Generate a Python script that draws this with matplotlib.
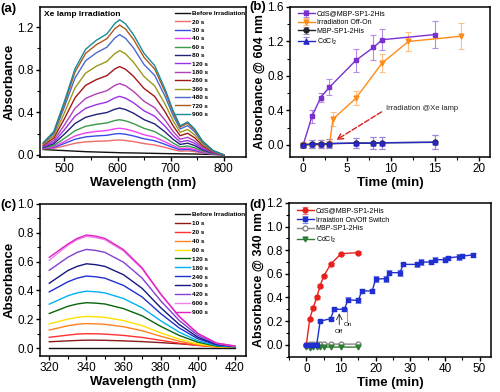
import matplotlib
matplotlib.use("Agg")
import matplotlib.pyplot as plt
from matplotlib.ticker import AutoMinorLocator, MultipleLocator

plt.rcParams["font.family"] = ["Liberation Sans", "DejaVu Sans"]
plt.rcParams["axes.linewidth"] = 1.1
plt.rcParams["xtick.major.width"] = 1.0
plt.rcParams["ytick.major.width"] = 1.0
plt.rcParams["xtick.minor.width"] = 0.8
plt.rcParams["ytick.minor.width"] = 0.8
plt.rcParams["xtick.major.size"] = 3
plt.rcParams["ytick.major.size"] = 3
plt.rcParams["xtick.minor.size"] = 2
plt.rcParams["ytick.minor.size"] = 2

# ---- panel (a): Vis spectra under Xe lamp ----
wl_a = [460, 480, 500, 520, 540, 560, 580, 595, 604, 615, 630, 650, 670, 690, 705, 718, 732, 745, 760, 780, 800]
labels_a = ["Before Irradiation", "20 s", "30 s", "40 s", "60 s", "80 s", "120 s",
            "180 s", "260 s", "360 s", "480 s", "720 s", "900 s"]
colors_a = ["#111111", "#f06a6a", "#3a4ae8", "#f040f0", "#3a9a4a", "#22227a", "#9a30e8",
            "#b040b8", "#a01818", "#9a9a18", "#4a6ad0", "#b0581a", "#1a8a9a"]
spectra_a = [
    [0.050, 0.045, 0.040, 0.035, 0.030, 0.027, 0.024, 0.022, 0.020, 0.019, 0.018, 0.016, 0.014, 0.012, 0.011, 0.010, 0.009, 0.008, 0.006, 0.003, 0.0],
    [0.056, 0.062, 0.084, 0.109, 0.122, 0.128, 0.131, 0.138, 0.140, 0.135, 0.125, 0.106, 0.093, 0.070, 0.049, 0.035, 0.038, 0.031, 0.018, 0.007, 0.0],
    [0.059, 0.070, 0.107, 0.147, 0.169, 0.178, 0.184, 0.197, 0.200, 0.194, 0.178, 0.151, 0.133, 0.098, 0.069, 0.048, 0.052, 0.042, 0.024, 0.008, 0.0],
    [0.062, 0.077, 0.125, 0.178, 0.207, 0.220, 0.229, 0.245, 0.250, 0.242, 0.223, 0.189, 0.166, 0.122, 0.085, 0.058, 0.064, 0.052, 0.029, 0.010, 0.0],
    [0.066, 0.088, 0.155, 0.227, 0.269, 0.287, 0.300, 0.323, 0.330, 0.320, 0.294, 0.249, 0.219, 0.161, 0.110, 0.075, 0.083, 0.067, 0.037, 0.012, 0.0],
    [0.071, 0.104, 0.195, 0.295, 0.353, 0.380, 0.398, 0.429, 0.440, 0.426, 0.392, 0.331, 0.291, 0.214, 0.145, 0.098, 0.110, 0.088, 0.048, 0.016, 0.0],
    [0.077, 0.119, 0.236, 0.364, 0.438, 0.472, 0.496, 0.536, 0.550, 0.533, 0.490, 0.414, 0.364, 0.266, 0.181, 0.121, 0.136, 0.109, 0.059, 0.019, 0.0],
    [0.083, 0.136, 0.281, 0.438, 0.531, 0.573, 0.603, 0.653, 0.670, 0.650, 0.597, 0.504, 0.443, 0.324, 0.219, 0.147, 0.165, 0.132, 0.071, 0.023, 0.0],
    [0.091, 0.158, 0.340, 0.537, 0.654, 0.707, 0.745, 0.808, 0.830, 0.805, 0.739, 0.624, 0.549, 0.401, 0.270, 0.180, 0.203, 0.162, 0.087, 0.027, 0.0],
    [0.098, 0.179, 0.395, 0.630, 0.769, 0.833, 0.878, 0.953, 0.980, 0.950, 0.872, 0.736, 0.648, 0.473, 0.318, 0.212, 0.239, 0.190, 0.102, 0.032, 0.0],
    [0.106, 0.200, 0.451, 0.723, 0.885, 0.959, 1.012, 1.099, 1.130, 1.096, 1.006, 0.849, 0.747, 0.545, 0.366, 0.243, 0.275, 0.219, 0.117, 0.036, 0.0],
    [0.110, 0.213, 0.484, 0.779, 0.954, 1.035, 1.092, 1.186, 1.220, 1.183, 1.086, 0.916, 0.806, 0.588, 0.395, 0.262, 0.297, 0.236, 0.126, 0.039, 0.0],
    [0.113, 0.220, 0.503, 0.810, 0.993, 1.077, 1.137, 1.235, 1.270, 1.232, 1.131, 0.954, 0.839, 0.612, 0.411, 0.273, 0.309, 0.246, 0.131, 0.041, 0.0],
]

# ---- panel (b): absorbance at 604 nm vs time ----
t_b_cds = [0, 1, 2, 3, 6, 8, 9, 15]
y_b_cds = [0.0, 0.33, 0.55, 0.67, 0.98, 1.13, 1.22, 1.28]
e_b_cds = [0.0, 0.07, 0.05, 0.09, 0.13, 0.15, 0.12, 0.16]
t_b_off = [0, 1, 2, 3, 3.4, 6, 9, 12, 18]
y_b_off = [0.0, 0.0, 0.0, 0.01, 0.30, 0.54, 0.95, 1.20, 1.26]
e_b_off = [0.03, 0.03, 0.03, 0.03, 0.08, 0.08, 0.10, 0.11, 0.15]
t_b_ctrl = [0, 1, 2, 3, 6, 8, 9, 15]
y_b_mbp = [0.0, 0.010, 0.010, 0.015, 0.020, 0.020, 0.025, 0.030]
y_b_cdcl = [0.0, 0.012, 0.012, 0.016, 0.022, 0.022, 0.025, 0.032]
e_b_ctrl = [0.02, 0.05, 0.05, 0.05, 0.06, 0.07, 0.07, 0.08]

# ---- panel (c): UV spectra ----
wl_c = [320, 330, 335, 340, 345, 350, 360, 370, 380, 390, 400, 410, 420]
labels_c = ["Before Irradiation", "10 s", "20 s", "40 s", "60 s", "120 s", "180 s",
            "240 s", "300 s", "420 s", "600 s", "900 s"]
colors_c = ["#111111", "#8b1a1a", "#ff3030", "#ff8020", "#ffe000", "#0a640a", "#00b0f0",
            "#2030d0", "#181880", "#8040d0", "#f080f0", "#e020c0"]
spectra_c = [
    [0.0, 0.0, 0.0, 0.0, 0.0, 0.0, 0.0, 0.0, 0.0, 0.0, 0.0, 0.0, 0.0],
    [0.044, 0.050, 0.053, 0.055, 0.055, 0.054, 0.050, 0.045, 0.038, 0.030, 0.020, 0.012, 0.008],
    [0.075, 0.090, 0.097, 0.100, 0.099, 0.097, 0.088, 0.074, 0.054, 0.034, 0.018, 0.008, 0.005],
    [0.125, 0.155, 0.165, 0.170, 0.168, 0.165, 0.148, 0.121, 0.082, 0.048, 0.022, 0.008, 0.005],
    [0.168, 0.201, 0.213, 0.220, 0.218, 0.213, 0.191, 0.156, 0.106, 0.062, 0.029, 0.010, 0.006],
    [0.240, 0.290, 0.306, 0.315, 0.312, 0.306, 0.274, 0.224, 0.151, 0.088, 0.041, 0.014, 0.008],
    [0.305, 0.363, 0.383, 0.395, 0.391, 0.383, 0.344, 0.280, 0.190, 0.111, 0.051, 0.018, 0.009],
    [0.390, 0.460, 0.485, 0.500, 0.495, 0.485, 0.435, 0.355, 0.240, 0.140, 0.065, 0.023, 0.010],
    [0.450, 0.538, 0.567, 0.585, 0.579, 0.567, 0.509, 0.415, 0.281, 0.164, 0.076, 0.026, 0.011],
    [0.540, 0.630, 0.664, 0.685, 0.678, 0.664, 0.596, 0.486, 0.329, 0.192, 0.089, 0.031, 0.012],
    [0.610, 0.713, 0.752, 0.775, 0.767, 0.752, 0.674, 0.550, 0.372, 0.217, 0.101, 0.035, 0.013],
    [0.630, 0.722, 0.761, 0.785, 0.777, 0.761, 0.683, 0.557, 0.377, 0.220, 0.102, 0.035, 0.015],
]

# ---- panel (d): absorbance at 340 nm vs time ----
t_d_cds = [0, 1, 2, 3, 4, 5, 7, 10, 15]
y_d_cds = [0.0, 0.22, 0.315, 0.40, 0.50, 0.58, 0.68, 0.77, 0.78]
e_d_cds = [0.005, 0.01, 0.01, 0.01, 0.01, 0.01, 0.01, 0.01, 0.01]
t_d_sw = [0, 1, 2, 3, 4, 7, 8, 11, 12, 15, 16, 19, 20, 23, 24, 27, 28, 32, 33, 36, 37, 40, 41, 44, 45, 48]
y_d_sw = [0.0, 0.0, 0.0, 0.0, 0.20, 0.22, 0.30, 0.30, 0.38, 0.375, 0.455, 0.455, 0.555, 0.56,
          0.61, 0.61, 0.68, 0.68, 0.70, 0.70, 0.72, 0.72, 0.735, 0.745, 0.75, 0.76]
e_d_sw = [0.01, 0.01, 0.01, 0.01, 0.01, 0.015, 0.015, 0.015, 0.02, 0.02, 0.02, 0.02, 0.025,
          0.025, 0.02, 0.025, 0.015, 0.02, 0.025, 0.02, 0.02, 0.02, 0.015, 0.025, 0.02, 0.02]
t_d_ctrl = [0, 1, 2, 3, 4, 5, 7, 10, 15]
y_d_mbp = [0.0, 0.005, 0.005, 0.008, 0.008, 0.005, 0.005, 0.005, 0.005]
y_d_cdcl = [-0.02, -0.025, -0.02, -0.02, -0.02, -0.02, -0.02, -0.02, -0.02]

fig = plt.figure(figsize=(5, 3.92), dpi=100)
ax_a = fig.add_axes([0.080, 0.5995, 0.412, 0.3827])
ax_b = fig.add_axes([0.580, 0.5995, 0.400, 0.3827])
ax_c = fig.add_axes([0.080, 0.0918, 0.412, 0.3878])
ax_d = fig.add_axes([0.578, 0.0893, 0.404, 0.3929])

lab = dict(fontsize=9.5, fontweight="bold")
lab_t = dict(fontsize=9, fontweight="bold")
for ax in (ax_a, ax_b, ax_c, ax_d):
    ax.tick_params(which="both", direction="out", top=False, right=False, labelsize=8.5, pad=1.5)
    ax.xaxis.set_minor_locator(AutoMinorLocator(2))
    ax.yaxis.set_minor_locator(AutoMinorLocator(2))

# (a)
for vals, c, lb in zip(spectra_a, colors_a, labels_a):
    ax_a.plot(wl_a, vals, color=c, lw=1.0, label=lb)
ax_a.set_xlim(454, 842)
ax_a.set_ylim(-0.02, 1.39)
ax_a.xaxis.set_major_locator(MultipleLocator(100))
ax_a.yaxis.set_major_locator(MultipleLocator(0.4))
ax_a.set_xlabel("Wavelength (nm)", labelpad=1, **lab)
ax_a.set_ylabel("Absorbance", labelpad=1, **lab)
ax_a.text(0.02, 0.95, "Xe lamp Irradiation", transform=ax_a.transAxes, fontsize=6,
          fontweight="bold", va="center")
ax_a.legend(loc="upper left", bbox_to_anchor=(0.655, 0.975), frameon=False,
            prop={"weight": "bold", "size": 4.6}, handlelength=2.4, handletextpad=0.3,
            labelspacing=0.46, borderpad=0, borderaxespad=0)

# (b)
eb = dict(capsize=2, elinewidth=0.8, capthick=0.8, lw=1.0, ms=3.5)
h1 = ax_b.errorbar(t_b_cds, y_b_cds, yerr=e_b_cds, color="#7b2fd0", marker="s",
                   ecolor="#b48be6", label="CdS@MBP-SP1-2His", **eb)
h2 = ax_b.errorbar(t_b_off, y_b_off, yerr=e_b_off, color="#ff8c1a", marker="v",
                   ecolor="#ffbf80", label="Irradiation Off-On", **eb)
h3 = ax_b.errorbar(t_b_ctrl, y_b_mbp, yerr=e_b_ctrl, color="#222222", marker="o",
                   ecolor="#9a8ad8", label="MBP-SP1-2His", **eb)
h4 = ax_b.errorbar(t_b_ctrl, y_b_cdcl, yerr=e_b_ctrl, color="#2828c8", marker="^",
                   ecolor="#9a8ad8", label="CdCl$_2$", **eb)
ax_b.annotate("", xy=(3.5, 0.04), xytext=(9.2, 0.40),
              arrowprops=dict(arrowstyle="->", color="#d42020", lw=1.0, ls="--"))
ax_b.text(9.4, 0.42, "Irradiation @Xe lamp", fontsize=5.5, va="center", color="#222222")
ax_b.set_xlim(-1.5, 21.3)
ax_b.set_ylim(-0.14, 1.6)
ax_b.xaxis.set_major_locator(MultipleLocator(5))
ax_b.yaxis.set_major_locator(MultipleLocator(0.4))
ax_b.set_xlabel("Time (min)", labelpad=1, **lab)
ax_b.set_ylabel("Absorbance @ 604 nm", labelpad=1, **lab_t)
ax_b.legend(handles=[h1, h2, h3, h4], loc="upper left", bbox_to_anchor=(0.04, 0.975),
            frameon=False, fontsize=5, handlelength=2.4, handletextpad=0.3,
            labelspacing=0.22, borderpad=0, borderaxespad=0)

# (c)
for vals, c, lb in zip(spectra_c, colors_c, labels_c):
    ax_c.plot(wl_c, vals, color=c, lw=1.0, label=lb)
ax_c.set_xlim(315, 426)
ax_c.set_ylim(-0.055, 1.0)
ax_c.xaxis.set_major_locator(MultipleLocator(20))
ax_c.yaxis.set_major_locator(MultipleLocator(0.2))
ax_c.set_xlabel("Wavelength (nm)", labelpad=1, **lab)
ax_c.set_ylabel("Absorbance", labelpad=1, **lab)
ax_c.legend(loc="upper left", bbox_to_anchor=(0.655, 0.95), frameon=False,
            prop={"weight": "bold", "size": 4.6}, handlelength=2.4, handletextpad=0.3,
            labelspacing=0.54, borderpad=0, borderaxespad=0)

# (d)
g1 = ax_d.errorbar(t_d_cds, y_d_cds, yerr=e_d_cds, color="#e8201c", marker="o",
                   ecolor="#f08080", label="CdS@MBP-SP1-2His", **eb)
g2 = ax_d.errorbar(t_d_sw, y_d_sw, yerr=e_d_sw, color="#2030d0", marker="s",
                   ecolor="#8090e8", label="Irraiation On/Off Switch", **eb)
g3, = ax_d.plot(t_d_ctrl, y_d_mbp, color="#888888", marker="o", mfc="white", ms=3.5,
                lw=1.0, label="MBP-SP1-2His")
g4, = ax_d.plot(t_d_ctrl, y_d_cdcl, color="#2e7d32", marker="v", ms=3.5, lw=1.0,
                label="CdCl$_2$")
ax_d.annotate("", xy=(9.5, 0.29), xytext=(9.5, 0.145),
              arrowprops=dict(arrowstyle="->", color="#222222", lw=0.6))
ax_d.text(9.5, 0.115, "Off", fontsize=4.5, ha="center", va="center")
ax_d.plot([11.7, 11.7], [0.20, 0.315], color="#ff8c1a", lw=0.8)
ax_d.text(12.0, 0.17, "On", fontsize=4.5, ha="center", va="center")
ax_d.set_xlim(-5, 53.3)
ax_d.set_ylim(-0.104, 1.2)
ax_d.xaxis.set_major_locator(MultipleLocator(10))
ax_d.yaxis.set_major_locator(MultipleLocator(0.2))
ax_d.set_xlabel("Time (min)", labelpad=1, **lab)
ax_d.set_ylabel("Absorbance @ 340 nm", labelpad=1, **lab_t)
ax_d.legend(handles=[g1, g2, g3, g4], loc="upper left", bbox_to_anchor=(0.04, 0.97),
            frameon=False, fontsize=5, handlelength=2.4, handletextpad=0.3,
            labelspacing=0.28, borderpad=0, borderaxespad=0)

for x, y, s in [(0.0, 0.978, "(a)"), (0.499, 0.981, "(b)"),
                (0.0, 0.478, "(c)"), (0.499, 0.478, "(d)")]:
    fig.text(x, y, s, fontsize=9.5, fontweight="bold", va="center")

fig.savefig("out.png", dpi=100)
